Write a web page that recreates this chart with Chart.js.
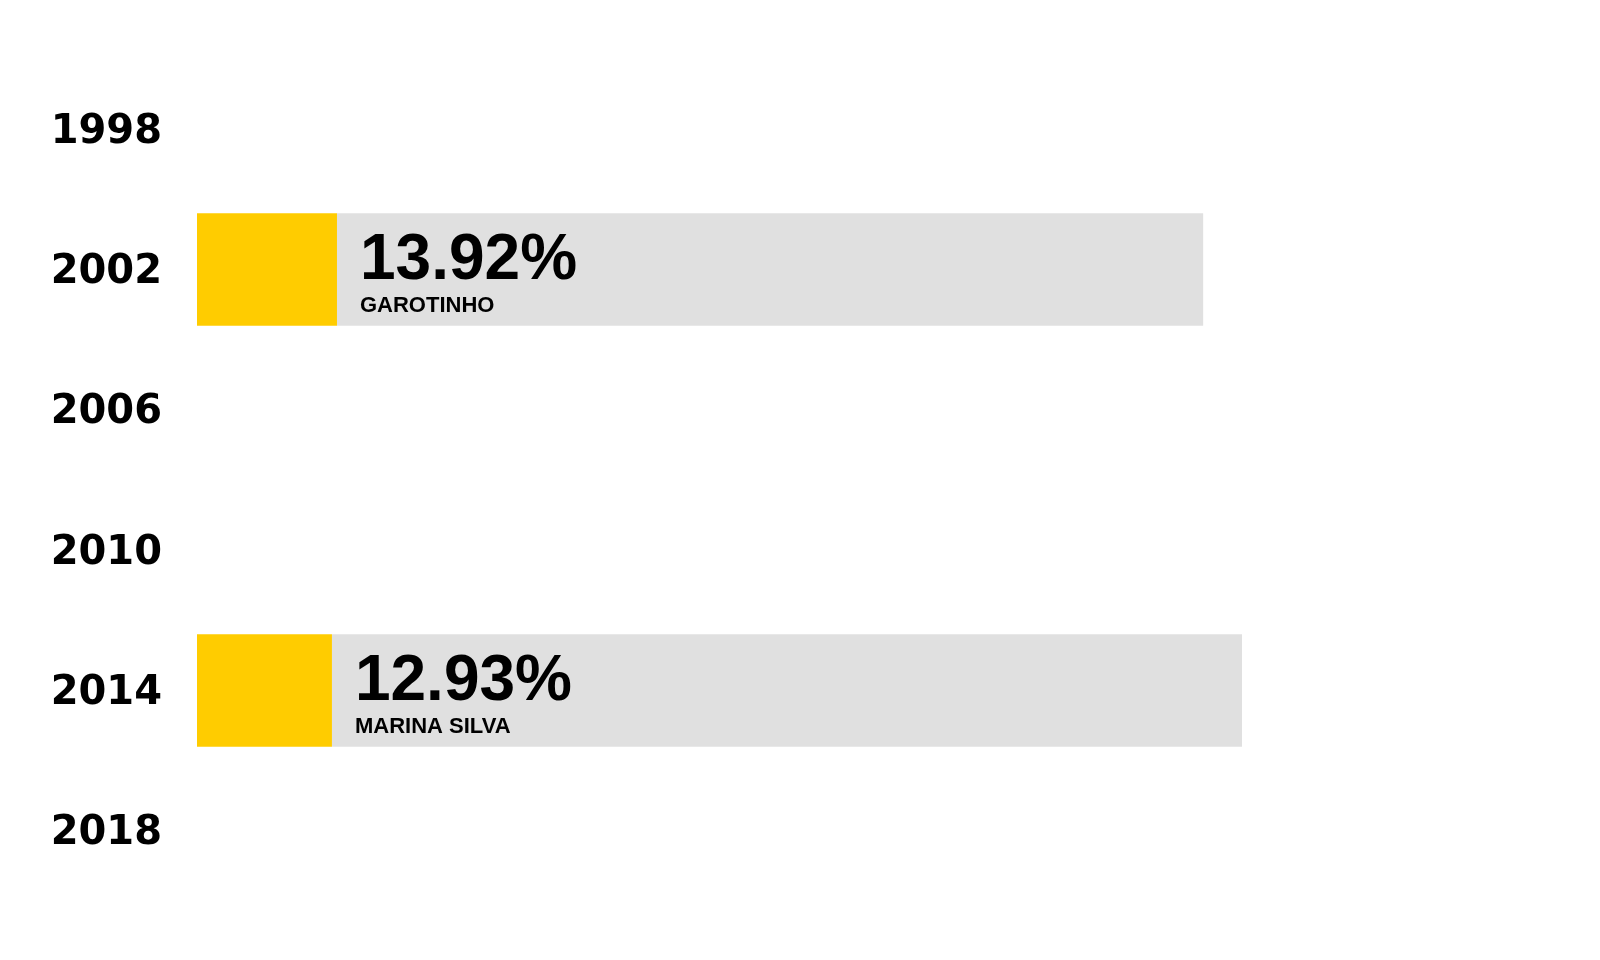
<!DOCTYPE html>
<html>
<head>
<meta charset="utf-8">
<script src="https://cdn.jsdelivr.net/npm/chart.js@4.4.1/dist/chart.umd.min.js"></script>
<style>
html,body{margin:0;padding:0;background:#fff;}
#wrap{width:1600px;height:960px;position:relative;}
</style>
</head>
<body>
<div id="wrap"><canvas id="c" width="1600" height="960"></canvas></div>
<script>
const years = ["1998", "2002", "2006", "2010", "2014", "2018"];
const yellowValues = [null, 10.27, null, null, 9.90, null];
const grayValues = [null, 63.55, null, null, 66.77, null];
const pctLabels = ["", "13.92%", "", "", "12.93%", ""];
const candidates = ["", "GAROTINHO", "", "", "MARINA SILVA", ""];

const labelPlugin = {
  id: 'barLabels',
  afterDatasetsDraw(chart) {
    const ctx = chart.ctx;
    const meta = chart.getDatasetMeta(1);
    meta.data.forEach((el, i) => {
      if (!pctLabels[i]) return;
      const x0 = el.base + 23;
      ctx.save();
      ctx.fillStyle = '#000';
      ctx.textAlign = 'left';
      ctx.textBaseline = 'alphabetic';
      ctx.font = 'bold 64px "Liberation Sans", Arial, sans-serif';
      ctx.fillText(pctLabels[i], x0, el.y + 9);
      ctx.font = 'bold 22px "Liberation Sans", Arial, sans-serif';
      ctx.fillText(candidates[i], x0, el.y + 42);
      ctx.restore();
    });
  }
};

new Chart(document.getElementById('c'), {
  type: 'bar',
  data: {
    labels: years,
    datasets: [
      { data: yellowValues, backgroundColor: '#FFCC00', borderWidth: 0 },
      { data: grayValues, backgroundColor: '#E0E0E0', borderWidth: 0 }
    ]
  },
  options: {
    indexAxis: 'y',
    responsive: false,
    animation: false,
    layout: { padding: { left: 0, right: 40, top: 56, bottom: 54 } },
    plugins: { legend: { display: false }, tooltip: { enabled: false } },
    datasets: { bar: { barPercentage: 0.8, categoryPercentage: 1.0 } },
    scales: {
      x: { stacked: true, min: 0, max: 100, display: false },
      y: {
        stacked: true,
        grid: { display: false, drawTicks: false },
        border: { display: false },
        ticks: {
          color: '#000',
          padding: 35,
          labelOffset: 3,
          font: { family: '"DejaVu Sans", sans-serif', weight: 'bold', size: 40 }
        },
        afterFit(scale) { scale.width = 197; }
      }
    }
  },
  plugins: [labelPlugin]
});
</script>
</body>
</html>
